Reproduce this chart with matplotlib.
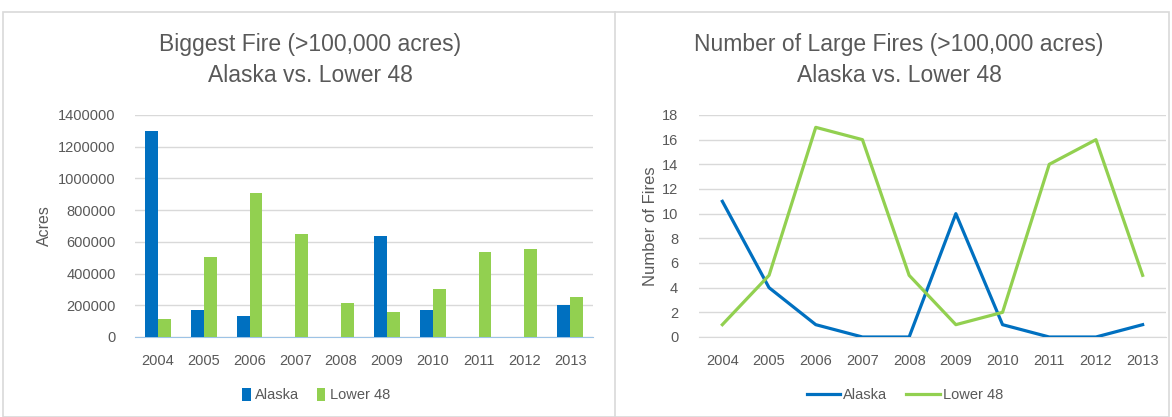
import numpy as np
import matplotlib.pyplot as plt
import matplotlib.ticker as mticker
from matplotlib.lines import Line2D
from matplotlib.patches import Rectangle

years = ['2004', '2005', '2006', '2007', '2008', '2009', '2010', '2011', '2012', '2013']

# biggest fire (acres)
biggest_alaska = [1300000, 170000, 130000, 0, 0, 635000, 170000, 0, 0, 200000]
biggest_lower48 = [115000, 505000, 905000, 650000, 215000, 160000, 305000, 535000, 555000, 255000]

# number of large fires
count_alaska = [11, 4, 1, 0, 0, 10, 1, 0, 0, 1]
count_lower48 = [1, 5, 17, 16, 5, 1, 2, 14, 16, 5]

BLUE = '#0070C0'
GREEN = '#92D050'
TXT = '#595959'
GRID = '#D9D9D9'

plt.rcParams['font.family'] = ['Liberation Sans', 'DejaVu Sans']

W, H = 1172, 417
fig = plt.figure(figsize=(W / 100, H / 100), dpi=100)

# panel borders
fig.patches.append(Rectangle((3 / W, 0), 1 - 6 / W, 1 - 12 / H, transform=fig.transFigure,
                             fill=False, edgecolor='#D9D9D9', lw=1.2))
fig.add_artist(Line2D([615 / W, 615 / W], [0, 1 - 12 / H], transform=fig.transFigure,
                      color='#D9D9D9', lw=1.2))

x = np.arange(len(years))

# left: bar chart
ax1 = fig.add_axes([135 / W, 1 - 337 / H, 458 / W, 222 / H])
w = 0.28
ax1.bar(x - w / 2, biggest_alaska, width=w, color=BLUE, label='Alaska', zorder=3)
ax1.bar(x + w / 2, biggest_lower48, width=w, color=GREEN, label='Lower 48', zorder=3)
ax1.set_ylim(0, 1400000)
ax1.set_yticks(np.arange(0, 1400001, 200000))
ax1.yaxis.set_major_formatter(mticker.FormatStrFormatter('%d'))
ax1.set_xlim(-0.5, 9.5)
ax1.set_xticks(x)
ax1.set_xticklabels(years)
ax1.set_ylabel('Acres', color=TXT, fontsize=11.5)
ax1.yaxis.set_label_coords(-0.182, 0.5)
ax1.grid(axis='y', color=GRID, lw=1, zorder=0)
for s in ['top', 'right', 'left']:
    ax1.spines[s].set_visible(False)
ax1.spines['bottom'].set_color('#9DC3E6')
ax1.tick_params(axis='y', length=0, colors=TXT, labelsize=10.5, pad=14)
ax1.tick_params(axis='x', length=0, colors=TXT, labelsize=10.5, pad=12)
fig.legend(handles=ax1.get_legend_handles_labels()[0], loc='center',
           bbox_to_anchor=(316 / W, 1 - 395 / H), ncol=2, frameon=False,
           fontsize=10.5, handlelength=0.6, handleheight=1.0, columnspacing=1.2,
           handletextpad=0.3, labelcolor=TXT)
fig.text(310 / W, 1 - 45 / H, 'Biggest Fire (>100,000 acres)', ha='center', va='center',
         fontsize=16.5, color=TXT)
fig.text(310 / W, 1 - 76 / H, 'Alaska vs. Lower 48', ha='center', va='center',
         fontsize=16.5, color=TXT)

# right: line chart
ax2 = fig.add_axes([699 / W, 1 - 337 / H, 467 / W, 222 / H])
ax2.plot(x, count_alaska, color=BLUE, lw=2.3, label='Alaska', zorder=3)
ax2.plot(x, count_lower48, color=GREEN, lw=2.3, label='Lower 48', zorder=3)
ax2.set_ylim(0, 18)
ax2.set_yticks(np.arange(0, 19, 2))
ax2.set_xlim(-0.5, 9.5)
ax2.set_xticks(x)
ax2.set_xticklabels(years)
ax2.set_ylabel('Number of Fires', color=TXT, fontsize=12)
ax2.yaxis.set_label_coords(-0.088, 0.5)
ax2.grid(axis='y', color=GRID, lw=1, zorder=0)
for s in ['top', 'right', 'left']:
    ax2.spines[s].set_visible(False)
ax2.spines['bottom'].set_color(GRID)
ax2.tick_params(axis='y', length=0, colors=TXT, labelsize=10.5, pad=15)
ax2.tick_params(axis='x', length=0, colors=TXT, labelsize=10.5, pad=12)
fig.legend(handles=ax2.get_legend_handles_labels()[0], loc='center',
           bbox_to_anchor=(905 / W, 1 - 395 / H), ncol=2, frameon=False,
           fontsize=10.5, handlelength=2.3, columnspacing=1.3, handletextpad=0.2,
           labelcolor=TXT)
fig.text(899 / W, 1 - 45 / H, 'Number of Large Fires (>100,000 acres)', ha='center',
         va='center', fontsize=16.5, color=TXT)
fig.text(899 / W, 1 - 76 / H, 'Alaska vs. Lower 48', ha='center', va='center',
         fontsize=16.5, color=TXT)

fig.savefig('out.png', dpi=100)
